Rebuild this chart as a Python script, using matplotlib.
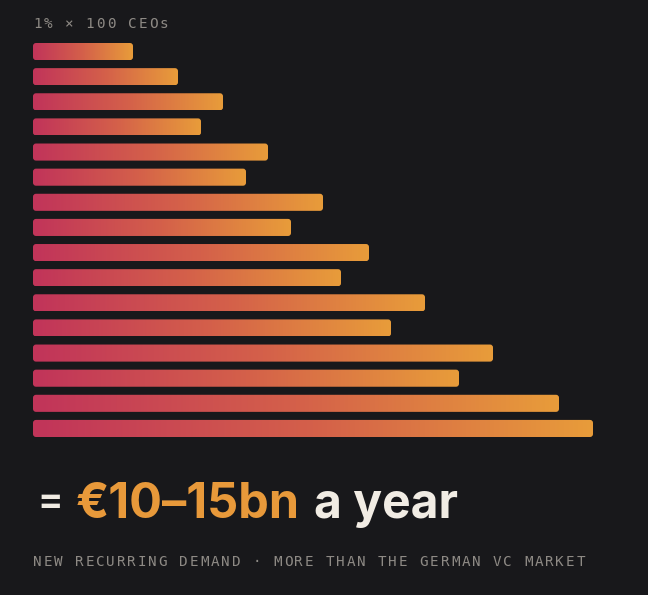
"""Bar stack: 1% x 100 CEOs -> new recurring demand."""
import matplotlib

matplotlib.use("Agg")
import matplotlib.pyplot as plt
import numpy as np
from matplotlib.colors import LinearSegmentedColormap
from matplotlib.patches import FancyBboxPatch

# bar lengths, top to bottom (arbitrary units)
values = [100, 145, 190, 168, 235, 213, 290, 258, 336, 308, 392, 358, 460, 426, 526, 560]
top_label = "1% × 100 CEOs"
headline_eq = "="
headline_num = "€10–15bn"
headline_tail = "a year"
footnote = "NEW RECURRING DEMAND · MORE THAN THE GERMAN VC MARKET"

BG = "#18181b"
GREY = "#8e8a85"
ORANGE = "#e8993a"
CREAM = "#f1ece4"
cmap = LinearSegmentedColormap.from_list("heat", ["#c1345a", "#d4604a", "#e89c3a"])

W, H = 648, 595
fig = plt.figure(figsize=(W / 100, H / 100), dpi=100, facecolor=BG)

# axes spans the bar block: x 33..593 px, y 43..437 px
ax = fig.add_axes([33 / W, (H - 437) / H, 560 / W, 394 / H])
ax.set_facecolor(BG)
n = len(values)
bar_h = 0.68
pad = bar_h / 2
ax.axis("off")

px_per_y = 394 / (n - 1 + 2 * pad)
grad = np.linspace(0, 1, 256).reshape(1, -1)
for i, v in enumerate(values):
    box = FancyBboxPatch((0, i - bar_h / 2), v, bar_h,
                         boxstyle="round,pad=0,rounding_size=3",
                         mutation_aspect=1 / px_per_y,
                         facecolor="none", edgecolor="none")
    ax.add_patch(box)
    im = ax.imshow(grad, cmap=cmap, aspect="auto", interpolation="bilinear",
                   extent=(0, v, i + bar_h / 2, i - bar_h / 2))
    im.set_clip_path(box)
ax.set_xlim(0, 560)
ax.set_ylim(n - 1 + pad, -pad)


def tracked(x0, y, text, pitch, **kw):
    # monospace text with extra letter spacing, one glyph per cell
    for k, ch in enumerate(text):
        fig.text((x0 + k * pitch) / W, 1 - y / H, ch, ha="left", va="baseline", **kw)


mono = dict(family="DejaVu Sans Mono", fontsize=10.3, color=GREY)
tracked(33, 28, top_label, 10.55, **mono)
tracked(33, 566, footnote, 10.45, **mono)

big = dict(family="Inter", fontweight="bold", va="baseline", ha="left")
fig.text(37 / W, 1 - 512 / H, headline_eq, color=CREAM, fontsize=27, **big)
fig.text(76 / W, 1 - 518 / H, headline_num, color=ORANGE, fontsize=35, **big)
fig.text(314 / W, 1 - 518 / H, headline_tail, color=CREAM, fontsize=34.5, **big)

fig.savefig("out.png", dpi=100, facecolor=BG)
